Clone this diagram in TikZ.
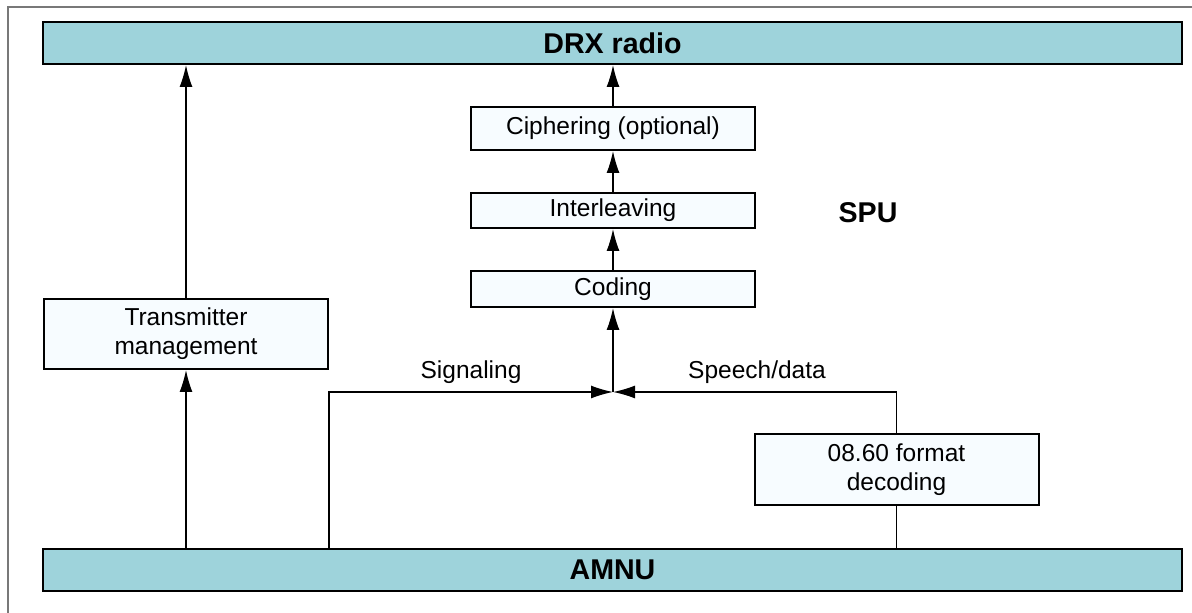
\documentclass[tikz,border=0pt]{standalone}
\usepackage{fontspec}
\setmainfont{Liberation Sans}
\usetikzlibrary{arrows.meta}
\definecolor{barblue}{RGB}{158,211,219}
\definecolor{boxfill}{RGB}{247,252,255}
\definecolor{framegray}{RGB}{120,120,120}

\begin{document}
\begin{tikzpicture}[x=0.5pt,y=-0.5pt,
    bar/.style={draw=black,line width=1pt,fill=barblue,minimum width=569.5pt,minimum height=21pt,inner sep=0pt,font=\fontsize{14.3}{16}\selectfont\bfseries},
    blk/.style={draw=black,line width=1pt,fill=boxfill,minimum width=142pt,inner sep=0pt,align=center,font=\fontsize{12.25}{14.5}\selectfont},
    lbl/.style={inner sep=0pt,font=\fontsize{12.25}{14.5}\selectfont},
    arr/.style={line width=0.7pt,-{Latex[length=11pt,width=6.5pt]}},
    ln/.style={line width=0.7pt}]
    \useasboundingbox (0,0) rectangle (1192,613);
    \draw[framegray,line width=0.6pt] (8,613) -- (8,7) -- (1192,7);

    % bars
    \node[bar] (drx) at (612.5,43) {DRX radio};
    \node[bar] (amnu) at (612.5,570) {AMNU};

    % blocks
    \node[blk,minimum height=21.5pt] (ciph) at (613,128.5) {Ciphering (optional)};
    \node[blk,minimum height=17.5pt] (inter) at (613,210.5) {Interleaving};
    \node[blk,minimum height=18pt] (cod) at (613,289) {Coding};
    \node[blk,minimum height=35pt] (tm) at (186,334) {Transmitter\\management};
    \node[blk,minimum height=35.5pt] (dec) at (896.5,469.5) {08.60 format\\decoding};

    \node[lbl,font=\fontsize{14.3}{16}\selectfont\bfseries] (spu) at (868,213) {SPU};
    \node[lbl] (sig) at (471,372) {Signaling};
    \node[lbl] (spd) at (757,372) {Speech/data};
    \coordinate (jn) at (613,392);

    % connectors
    \draw[arr] (amnu.north -| tm) -- (tm);
    \draw[arr] (tm) -- (tm |- drx.south);
    \draw[arr] (ciph) -- (ciph |- drx.south);
    \draw[arr] (inter) -- (ciph);
    \draw[arr] (cod) -- (inter);
    \draw[arr] (jn) -- (cod);
    \draw[arr] (amnu.north -| tm.east) |- (jn);
    \draw[ln] (amnu.north -| dec) -- (dec);
    \draw[arr] (dec) |- (jn);
\end{tikzpicture}
\end{document}
